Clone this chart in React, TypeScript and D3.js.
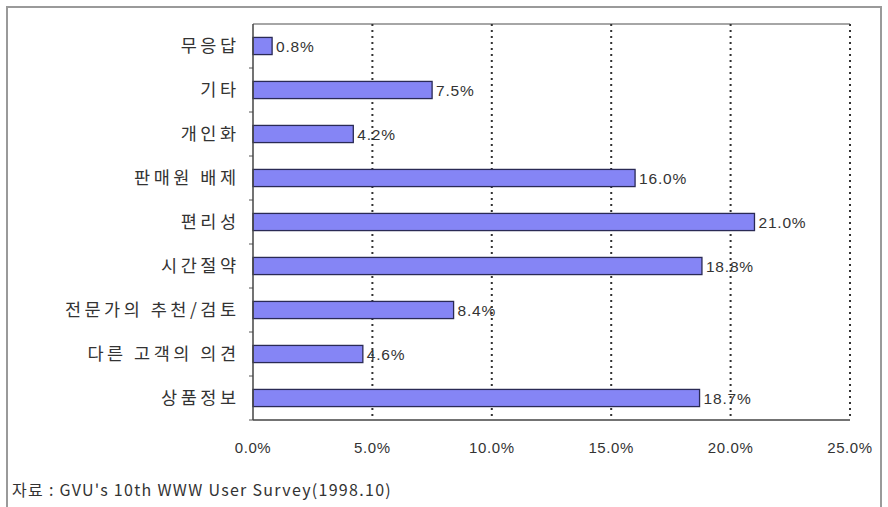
import React from "react";
import * as d3 from "d3";

const categories = ["무응답", "기타", "개인화", "판매원 배제", "편리성", "시간절약", "전문가의 추천/검토", "다른 고객의 의견", "상품정보"];
const values = [0.8, 7.5, 4.2, 16.0, 21.0, 18.8, 8.4, 4.6, 18.7];
const ticks = [0, 5, 10, 15, 20, 25];
const source = "자료 : GVU's 10th WWW User Survey(1998.10)";

export default function App() {
  const W = 888, H = 507;
  const left = 253, right = 850, top = 24, bottom = 420;
  const x = d3.scaleLinear().domain([0, 25]).range([left, right]);
  const y = d3.scaleBand<string>().domain(categories).range([top, bottom]).paddingInner(0.61).paddingOuter(0.305);
  const step = y.step();
  const latin = "'Liberation Sans', Arial, sans-serif";
  const kr = "'Noto Sans CJK KR', sans-serif";
  return (
    <svg width={W} height={H} style={{ position: "absolute", left: 0, top: 0, background: "#fff" }}>
      <rect x={7} y={7} width={874} height={520} fill="#fff" stroke="#9a9a9a" strokeWidth={2} />
      <line x1={left} x2={right} y1={top} y2={top} stroke="#888" strokeWidth={1.5} />
      {ticks.slice(1).map((t) => (
        <line key={t} x1={x(t)} x2={x(t)} y1={top} y2={bottom} stroke="#333" strokeWidth={2} strokeDasharray="2,4" />
      ))}
      {categories.map((c, i) => (
        <line key={"tk" + i} x1={left - 4} x2={left} y1={top + step * (i + 1)} y2={top + step * (i + 1)} stroke="#555" strokeWidth={1} />
      ))}
      {categories.map((c, i) => (
        <g key={c}>
          <rect x={x(0)} y={y(c)!} width={x(values[i]) - x(0)} height={y.bandwidth()} fill="#8585f5" stroke="#2a2a55" strokeWidth={1.3} />
          <text x={x(values[i]) + 4} y={y(c)! + y.bandwidth() / 2} dy="0.36em" fontFamily={latin} fontSize={15.5} fill="#333" letterSpacing={0.8}>
            {values[i].toFixed(1)}%
          </text>
          <text x={239.5} y={y(c)! + y.bandwidth() / 2} dy="0.36em" textAnchor="end" fontFamily={kr} fontSize={17.5} fill="#333" letterSpacing={3.5}>
            {c}
          </text>
        </g>
      ))}
      <line x1={left} x2={left} y1={top} y2={bottom} stroke="#444" strokeWidth={1.5} />
      <line x1={left} x2={right} y1={bottom} y2={bottom} stroke="#444" strokeWidth={1.5} />
      {ticks.map((t) => (
        <text key={"l" + t} x={x(t)} y={448} dy="0.36em" textAnchor="middle" fontFamily={latin} fontSize={15} fill="#333" letterSpacing={0.6}>
          {t.toFixed(1)}%
        </text>
      ))}
      <text x={12} y={490} dy="0.36em" fontFamily={kr} fontSize={16} fill="#333" letterSpacing={1.3}>
        {source}
      </text>
    </svg>
  );
}
